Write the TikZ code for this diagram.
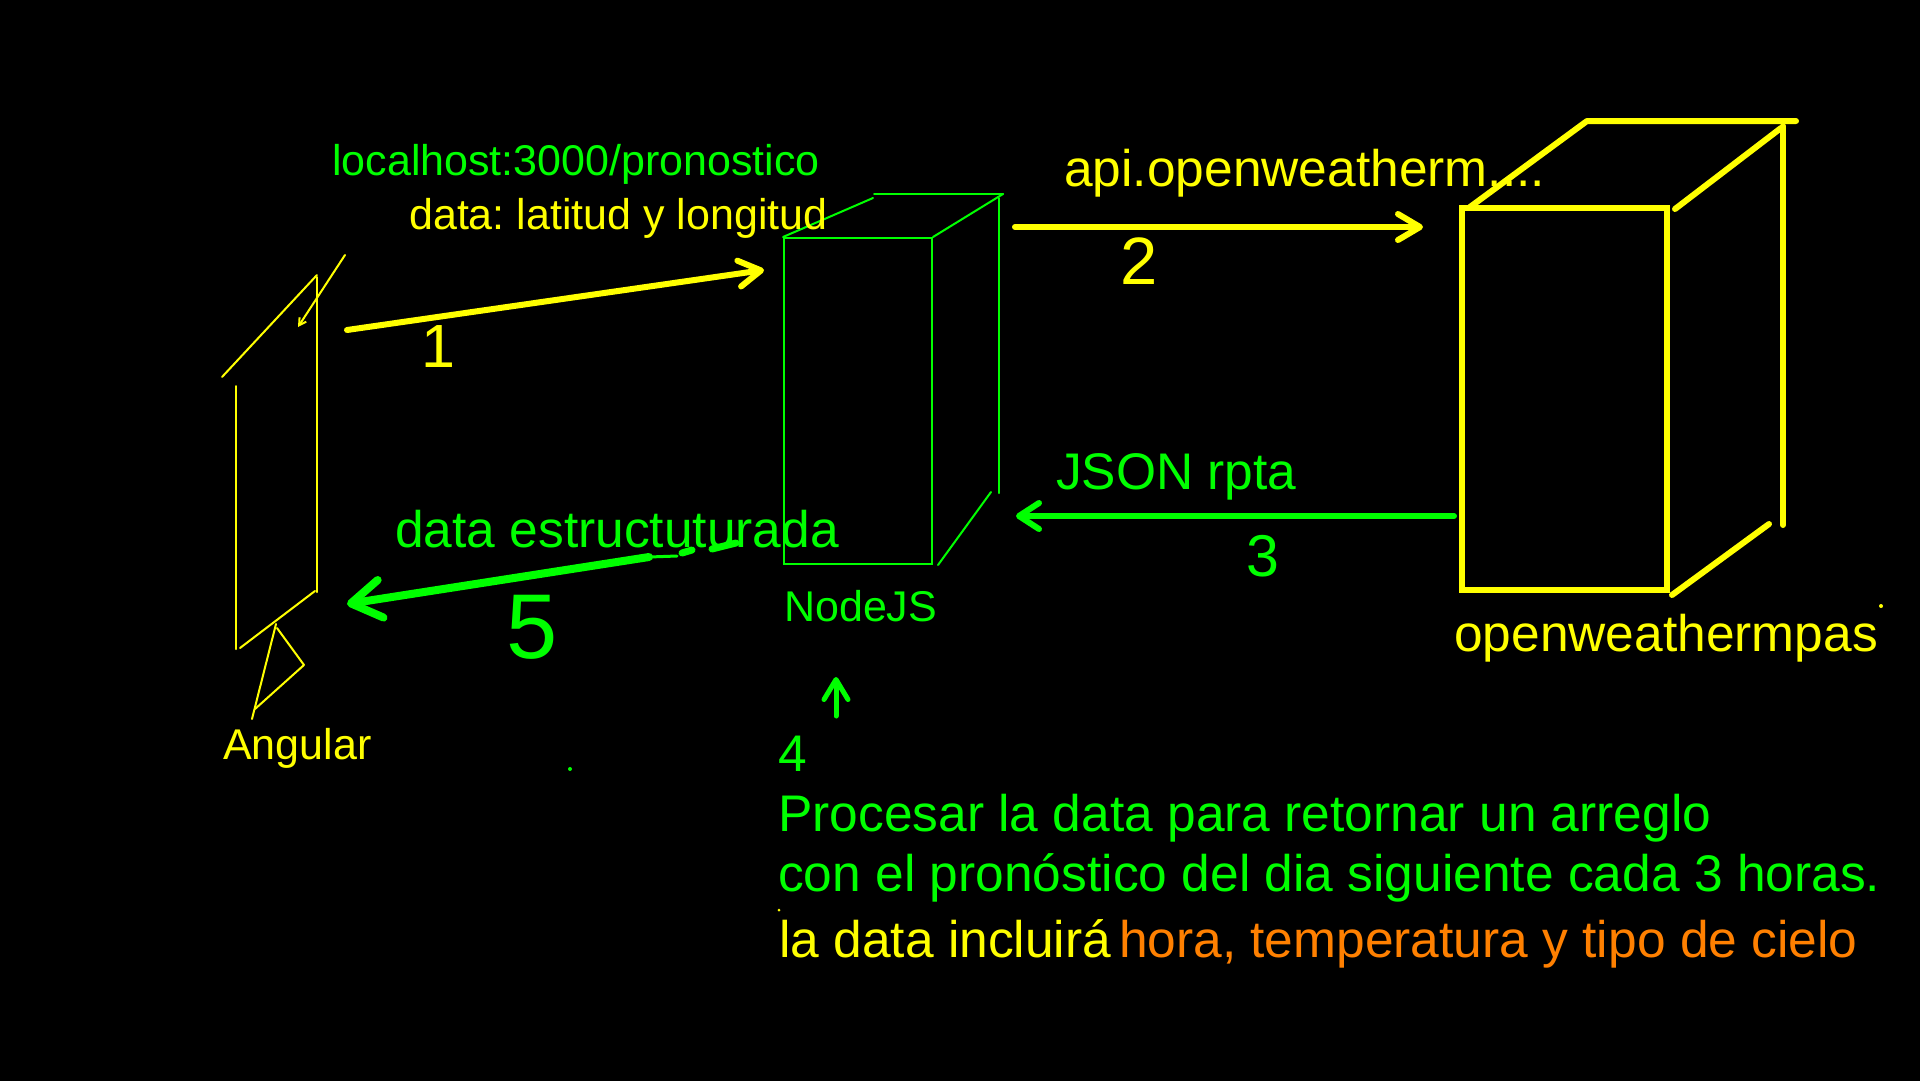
\documentclass[tikz,border=0pt]{standalone}
\usepackage{fontspec}
\setmainfont{Liberation Sans}
\usetikzlibrary{arrows.meta}
\definecolor{cgreen}{RGB}{0,255,0}
\definecolor{cyellow}{RGB}{255,255,0}
\definecolor{corange}{RGB}{255,128,0}
\frenchspacing
\begin{document}
\begin{tikzpicture}[x=1pt,y=-1pt,
  small/.style={font=\fontsize{43}{50}\selectfont, inner sep=0pt, anchor=base west},
  big/.style={font=\fontsize{51.5}{60}\selectfont, inner sep=0pt, anchor=base west},
  digit/.style={inner sep=0pt, anchor=base},
  thinline/.style={line width=2pt, line cap=round, line join=round},
  thickline/.style={line width=6pt, line cap=round, line join=round},
  conn/.style={line cap=round, line join=round},
]
\useasboundingbox (0,0) rectangle (1920,1080);
\fill[black] (-10,-10) rectangle (1930,1090);

% ---------- Angular (thin yellow sketch) ----------
\draw[thinline, cyellow] (236,386) -- (236,649);
\draw[thinline, cyellow] (317,277) -- (317,592);
\draw[thinline, cyellow] (222,377) -- (317,275);
\draw[thinline, cyellow] (240,648) -- (315,591);
\coordinate (angA) at (345,255);
\coordinate (angB) at (298,327);
\draw[thinline, cyellow, -{Straight Barb[length=7pt,width=8pt]}] (angA) -- (angB);
\draw[thinline, cyellow] (276,624) -- (252,719);
\draw[thinline, cyellow] (277,628) -- (304,665) -- (255,709);
\node[small, cyellow] (angular) at (223,759) {Angular};

% ---------- NodeJS (thin green box) ----------
\node[draw=cgreen, line width=2pt, minimum width=148pt, minimum height=326pt, inner sep=0pt] (nodebox) at (858,401) {};
\draw[thinline, cgreen] (nodebox.north west) -- (873,198);
\draw[thinline, cgreen] (874,194) -- (1003,194);
\draw[thinline, cgreen] (nodebox.north east) -- (1003,194);
\draw[thinline, cgreen] (999,198) -- (999,493);
\draw[thinline, cgreen] (938,565) -- (991,492);
\node[small, cgreen] (nodejs) at (784,621) {NodeJS};

% ---------- openweathermap (thick yellow box) ----------
\node[draw=cyellow, line width=6pt, minimum width=205pt, minimum height=382pt, inner sep=0pt] (owmbox) at (1564.5,399) {};
\draw[thickline, cyellow] (1470,207) -- (1587,121) -- (1796,121);
\draw[thickline, cyellow] (1675,209) -- (1781,128);
\draw[thickline, cyellow] (1783,126) -- (1783,525);
\draw[thickline, cyellow] (1672,595) -- (1769,524);
\node[big, cyellow] (owm) at (1454,651) {openweathermpas};

% ---------- labels ----------
\node[small, cgreen] (loc) at (332,175) {localhost:3000/pronostico};
\node[small, cyellow] (lat) at (409,229) {data: latitud y longitud};
\node[big, cyellow] (api) at (1064,186) {api.openweatherm....};
\node[big, cgreen] (json) at (1056,489) {JSON rpta};
\node[big, cgreen] (dest) at (395,547) {data estructuturada};

% ---------- arrow 1 ----------
\coordinate (a1s) at (347,330);
\coordinate (a1e) at (764,270);
\draw[conn, cyellow, line width=6pt, -{Straight Barb[length=22pt,width=26pt,round]}] (a1s) -- (a1e);
\node[digit, cyellow, font=\fontsize{61}{61}\selectfont] (n1) at (438,367) {1};

% ---------- arrow 2 ----------
\coordinate (a2s) at (1015,227);
\coordinate (a2e) at (1423,227);
\draw[conn, cyellow, line width=6pt, -{Straight Barb[length=22pt,width=26pt,round]}] (a2s) -- (a2e);
\node[digit, cyellow, font=\fontsize{67}{67}\selectfont] (n2) at (1139,284) {2};

% ---------- arrow 3 ----------
\coordinate (a3s) at (1454,516);
\coordinate (a3e) at (1016,516);
\draw[conn, cgreen, line width=6pt, -{Straight Barb[length=20pt,width=26pt,round]}] (a3s) -- (a3e);
\node[digit, cgreen, font=\fontsize{59}{59}\selectfont] (n3) at (1263,576) {3};

% ---------- arrow 4 ----------
\coordinate (a4s) at (836,716);
\coordinate (a4e) at (836,677);
\draw[conn, cgreen, line width=5pt, -{Straight Barb[length=20pt,width=24pt,round]}] (a4s) -- (a4e);
\node[big, cgreen] (n4) at (778,771) {4};

% ---------- arrow 5 ----------
\coordinate (a5s) at (649,557);
\coordinate (a5e) at (347,604);
\coordinate (a5t) at (677,556);
\coordinate (a5d1) at (682,553);
\coordinate (a5d2) at (692,550);
\coordinate (a5d3) at (712,549);
\coordinate (a5d4) at (736,543);
\draw[conn, cgreen, line width=8pt, -{Straight Barb[length=30pt,width=38pt,round]}] (a5s) -- (a5e);
\draw[conn, cgreen, line width=3pt] (a5s) -- (a5t);
\draw[conn, cgreen, line width=7pt] (a5d1) -- (a5d2);
\draw[conn, cgreen, line width=7pt] (a5d3) -- (a5d4);
\node[digit, cgreen, font=\fontsize{92}{92}\selectfont] (n5) at (532,658) {5};

% ---------- bottom text ----------
\node[big, cgreen] (p1) at (778,831) {Procesar la data para retornar un arreglo};
\node[big, cgreen] (p2) at (778,891) {con el pronóstico del dia siguiente cada 3 horas.};
\node[big, cyellow] (p3) at (779,957) {la data incluirá\hspace{0.15em}\textcolor{corange}{hora, temperatura y tipo de cielo}};

% ---------- stray dots ----------
\fill[cgreen] (570,769) circle (2pt);
\fill[cyellow] (1881,606) circle (2pt);
\fill[cyellow] (779,910) circle (1.5pt);
\end{tikzpicture}
\end{document}
